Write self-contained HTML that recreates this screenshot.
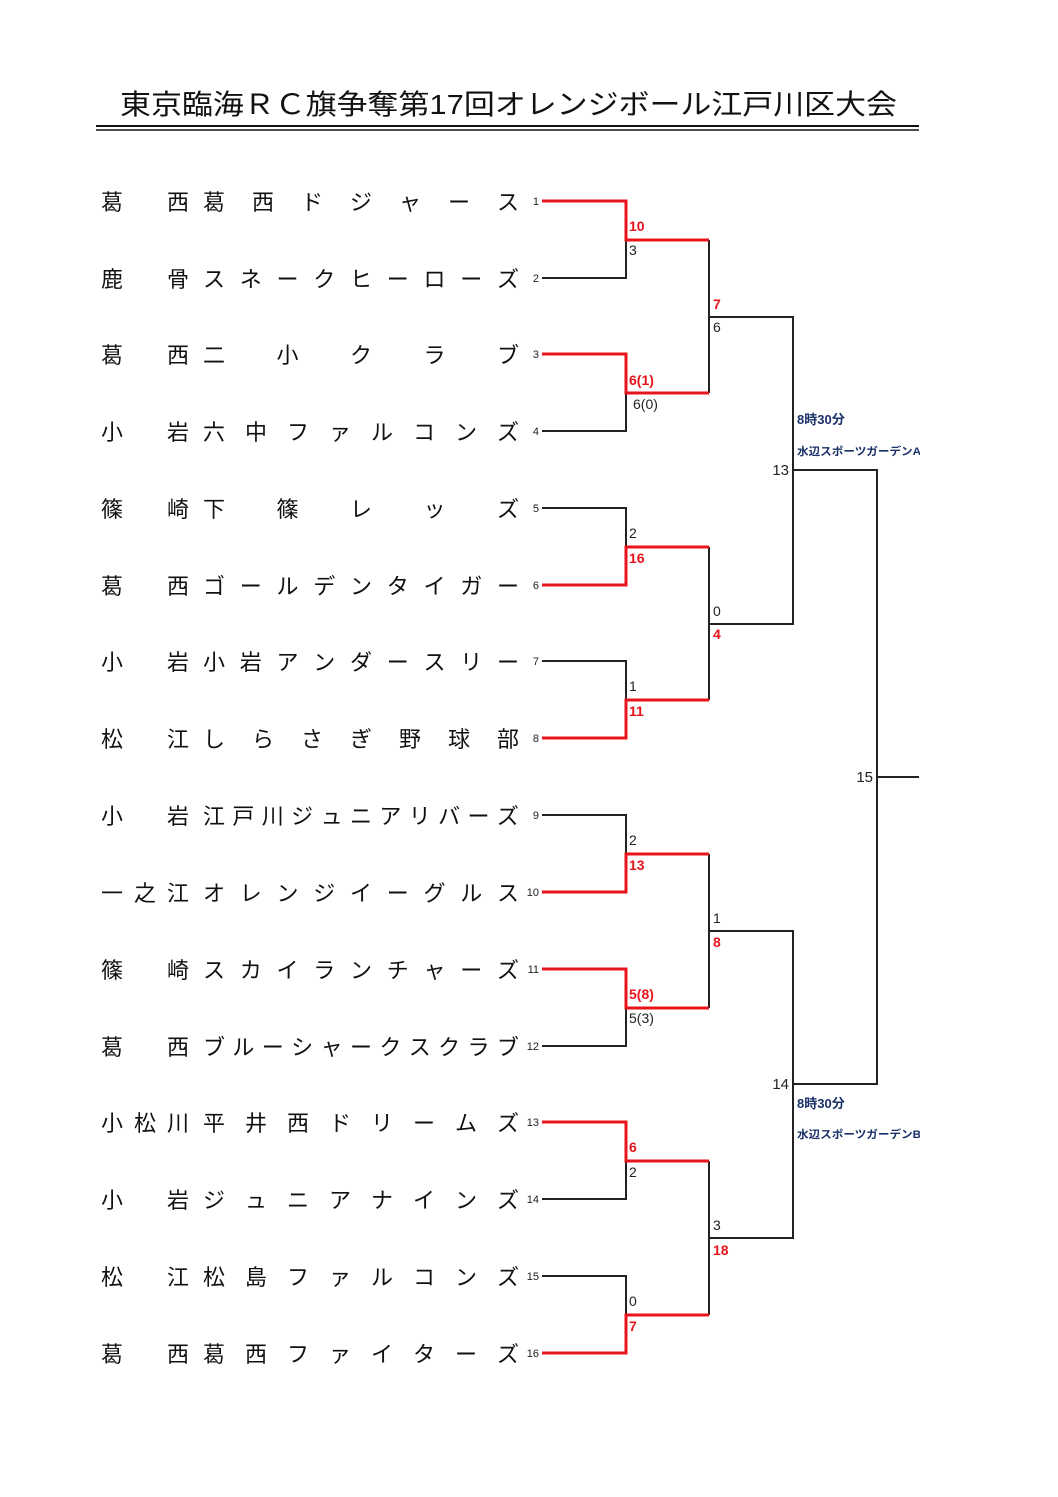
<!DOCTYPE html>
<html><head><meta charset="utf-8"><style>
html,body{margin:0;padding:0;background:#fff;}
body{width:1058px;height:1497px;position:relative;overflow:hidden;font-family:"Liberation Sans","Noto Sans CJK JP",sans-serif;}
.row{position:absolute;height:30px;display:flex;justify-content:space-between;align-items:center;font-size:22px;color:#111;}
.r{left:101px;width:88px;}
.t{left:203px;width:316px;}
.row span{display:block;width:22px;text-align:center;}
svg{position:absolute;left:0;top:0;}
</style></head><body>
<svg width="1058" height="1497" font-family="Liberation Sans, Noto Sans CJK JP, sans-serif">
<text x="120" y="114" font-size="28" textLength="777" lengthAdjust="spacingAndGlyphs" fill="#111">東京臨海ＲＣ旗争奪第17回オレンジボール江戸川区大会</text>
<line x1="96" y1="126" x2="919" y2="126" stroke="#111" stroke-width="2"/>
<line x1="96" y1="130" x2="919" y2="130" stroke="#111" stroke-width="1.5"/>
<g font-size="11" fill="#222" text-anchor="end">
<text x="539" y="205">1</text><text x="539" y="282">2</text><text x="539" y="358">3</text><text x="539" y="435">4</text>
<text x="539" y="512">5</text><text x="539" y="589">6</text><text x="539" y="665">7</text><text x="539" y="742">8</text>
<text x="539" y="819">9</text><text x="539" y="896">10</text><text x="539" y="973">11</text><text x="539" y="1050">12</text>
<text x="539" y="1126">13</text><text x="539" y="1203">14</text><text x="539" y="1280">15</text><text x="539" y="1357">16</text>
</g>
<g fill="none" stroke="#222" stroke-width="2">
<!-- round1 losers -->
<polyline points="542,278 626,278 626,240"/>
<polyline points="542,431 626,431 626,393"/>
<polyline points="542,508 626,508 626,547"/>
<polyline points="542,661 626,661 626,700"/>
<polyline points="542,815 626,815 626,854"/>
<polyline points="542,1046 626,1046 626,1008"/>
<polyline points="542,1199 626,1199 626,1161"/>
<polyline points="542,1276 626,1276 626,1315"/>
<!-- round2 -->
<polyline points="709,240 709,393"/>
<polyline points="709,547 709,700"/>
<polyline points="709,854 709,1008"/>
<polyline points="709,1161 709,1315"/>
<polyline points="709,317 793,317 793,624 709,624"/>
<polyline points="709,931 793,931 793,1238 709,1238"/>
<polyline points="793,470 877,470 877,1084 793,1084"/>
<line x1="877" y1="777" x2="919" y2="777"/>
</g>
<g fill="none" stroke="#e8141c" stroke-width="3">
<polyline points="542,201 626,201 626,240 709,240"/>
<polyline points="542,354 626,354 626,393 709,393"/>
<polyline points="542,585 626,585 626,547 709,547"/>
<polyline points="542,738 626,738 626,700 709,700"/>
<polyline points="542,892 626,892 626,854 709,854"/>
<polyline points="542,969 626,969 626,1008 709,1008"/>
<polyline points="542,1122 626,1122 626,1161 709,1161"/>
<polyline points="542,1353 626,1353 626,1315 709,1315"/>
</g>
<g font-size="14" font-weight="bold" fill="#e8141c">
<text x="629" y="231">10</text><text x="629" y="385">6(1)</text><text x="629" y="563">16</text><text x="629" y="716">11</text>
<text x="629" y="870">13</text><text x="629" y="999">5(8)</text><text x="629" y="1152">6</text><text x="629" y="1331">7</text>
<text x="713" y="309">7</text><text x="713" y="639">4</text><text x="713" y="947">8</text><text x="713" y="1255">18</text>
</g>
<g font-size="14" fill="#222">
<text x="629" y="255">3</text><text x="633" y="409">6(0)</text><text x="629" y="538">2</text><text x="629" y="691">1</text>
<text x="629" y="845">2</text><text x="629" y="1023">5(3)</text><text x="629" y="1177">2</text><text x="629" y="1306">0</text>
<text x="713" y="332">6</text><text x="713" y="616">0</text><text x="713" y="923">1</text><text x="713" y="1230">3</text>
</g>
<g font-size="15" fill="#222" text-anchor="end">
<text x="789" y="475">13</text><text x="789" y="1089">14</text><text x="873" y="782">15</text>
</g>
<g font-weight="bold" fill="#1a3068">
<text x="797" y="424" font-size="13">8時30分</text>
<text x="797" y="455" font-size="11" textLength="124" lengthAdjust="spacingAndGlyphs">水辺スポーツガーデンA</text>
<text x="797" y="1108" font-size="13">8時30分</text>
<text x="797" y="1138" font-size="11" textLength="124" lengthAdjust="spacingAndGlyphs">水辺スポーツガーデンB</text>
</g>
<rect x="920" y="400" width="138" height="800" fill="#fff"/>
</svg>

<div class="row r" style="top:186px"><span>葛</span><span>西</span></div><div class="row t" style="top:186px"><span>葛</span><span>西</span><span>ド</span><span>ジ</span><span>ャ</span><span>ー</span><span>ス</span></div>
<div class="row r" style="top:263px"><span>鹿</span><span>骨</span></div><div class="row t" style="top:263px"><span>ス</span><span>ネ</span><span>ー</span><span>ク</span><span>ヒ</span><span>ー</span><span>ロ</span><span>ー</span><span>ズ</span></div>
<div class="row r" style="top:339px"><span>葛</span><span>西</span></div><div class="row t" style="top:339px"><span>二</span><span>小</span><span>ク</span><span>ラ</span><span>ブ</span></div>
<div class="row r" style="top:416px"><span>小</span><span>岩</span></div><div class="row t" style="top:416px"><span>六</span><span>中</span><span>フ</span><span>ァ</span><span>ル</span><span>コ</span><span>ン</span><span>ズ</span></div>
<div class="row r" style="top:493px"><span>篠</span><span>崎</span></div><div class="row t" style="top:493px"><span>下</span><span>篠</span><span>レ</span><span>ッ</span><span>ズ</span></div>
<div class="row r" style="top:570px"><span>葛</span><span>西</span></div><div class="row t" style="top:570px"><span>ゴ</span><span>ー</span><span>ル</span><span>デ</span><span>ン</span><span>タ</span><span>イ</span><span>ガ</span><span>ー</span></div>
<div class="row r" style="top:646px"><span>小</span><span>岩</span></div><div class="row t" style="top:646px"><span>小</span><span>岩</span><span>ア</span><span>ン</span><span>ダ</span><span>ー</span><span>ス</span><span>リ</span><span>ー</span></div>
<div class="row r" style="top:723px"><span>松</span><span>江</span></div><div class="row t" style="top:723px"><span>し</span><span>ら</span><span>さ</span><span>ぎ</span><span>野</span><span>球</span><span>部</span></div>
<div class="row r" style="top:800px"><span>小</span><span>岩</span></div><div class="row t" style="top:800px"><span>江</span><span>戸</span><span>川</span><span>ジ</span><span>ュ</span><span>ニ</span><span>ア</span><span>リ</span><span>バ</span><span>ー</span><span>ズ</span></div>
<div class="row r" style="top:877px"><span>一</span><span>之</span><span>江</span></div><div class="row t" style="top:877px"><span>オ</span><span>レ</span><span>ン</span><span>ジ</span><span>イ</span><span>ー</span><span>グ</span><span>ル</span><span>ス</span></div>
<div class="row r" style="top:954px"><span>篠</span><span>崎</span></div><div class="row t" style="top:954px"><span>ス</span><span>カ</span><span>イ</span><span>ラ</span><span>ン</span><span>チ</span><span>ャ</span><span>ー</span><span>ズ</span></div>
<div class="row r" style="top:1031px"><span>葛</span><span>西</span></div><div class="row t" style="top:1031px"><span>ブ</span><span>ル</span><span>ー</span><span>シ</span><span>ャ</span><span>ー</span><span>ク</span><span>ス</span><span>ク</span><span>ラ</span><span>ブ</span></div>
<div class="row r" style="top:1107px"><span>小</span><span>松</span><span>川</span></div><div class="row t" style="top:1107px"><span>平</span><span>井</span><span>西</span><span>ド</span><span>リ</span><span>ー</span><span>ム</span><span>ズ</span></div>
<div class="row r" style="top:1184px"><span>小</span><span>岩</span></div><div class="row t" style="top:1184px"><span>ジ</span><span>ュ</span><span>ニ</span><span>ア</span><span>ナ</span><span>イ</span><span>ン</span><span>ズ</span></div>
<div class="row r" style="top:1261px"><span>松</span><span>江</span></div><div class="row t" style="top:1261px"><span>松</span><span>島</span><span>フ</span><span>ァ</span><span>ル</span><span>コ</span><span>ン</span><span>ズ</span></div>
<div class="row r" style="top:1338px"><span>葛</span><span>西</span></div><div class="row t" style="top:1338px"><span>葛</span><span>西</span><span>フ</span><span>ァ</span><span>イ</span><span>タ</span><span>ー</span><span>ズ</span></div>
</body></html>
